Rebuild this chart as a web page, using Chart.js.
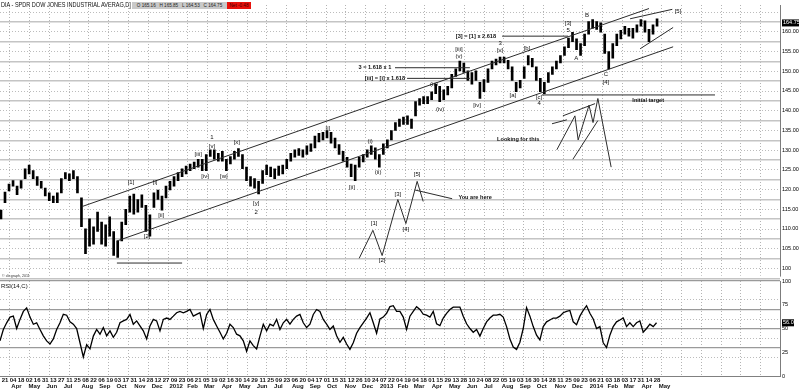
<!DOCTYPE html>
<html><head><meta charset="utf-8">
<script src="https://cdn.jsdelivr.net/npm/chart.js@4.4.1/dist/chart.umd.min.js"></script>
<style>
html,body{margin:0;padding:0;background:#fff;}
body{width:800px;height:390px;overflow:hidden;position:relative;font-family:"Liberation Sans",Arial,sans-serif;}
#pc{position:absolute;left:0;top:0;}
#rc{position:absolute;left:0;top:270px;}
.hd{position:absolute;white-space:nowrap;line-height:1;}
#title{left:1px;top:1px;font-size:7.5px;color:#111;transform:scaleX(0.74);transform-origin:0 0;}
#ohlc{left:132px;top:2px;width:95px;height:7px;background:#c9c9c9;font-size:4.6px;color:#222;line-height:7px;text-align:center;}
#net{left:227px;top:2px;width:24px;height:7px;background:#e8120c;font-size:4.6px;color:#400;line-height:7px;text-align:center;}
#copy{left:2px;top:275px;font-size:3.6px;color:#333;}
#rsit{left:1px;top:283px;font-size:6px;color:#111;}
</style></head><body>
<canvas id="pc" width="800" height="281"></canvas>
<canvas id="rc" width="800" height="120"></canvas>
<div class="hd" id="title">DIA - SPDR DOW JONES INDUSTRIAL AVERAG,D]</div>
<div class="hd" id="ohlc">O 165.16 &nbsp; H 165.85 &nbsp; L 164.53 &nbsp; C 164.75</div>
<div class="hd" id="net">Net -0.48</div>
<div class="hd" id="copy">© clicgraph, 2011</div>
<div class="hd" id="rsit">RSI(14,C)</div>
<script>
// ---- x axis: weeks counted from Monday 21 Mar 2011 ----
const X_MIN = -1.242, X_MAX = 192.55;

// weekly price bars (first bar = week -1)
const barStartWeek = -1;
const barLow = [115.1,119.2,122.2,123.4,121.2,122.9,125.3,126.5,125.3,123.6,122.9,120.9,119.7,119.2,119.2,121.7,125.3,124.8,125.3,121.7,
113.1,106.3,108.2,108.7,111.9,108.7,108.2,110.7,105.8,105.3,109.5,113.6,116.8,116.3,116.8,118.0,111.9,110.7,118.0,120.0,
117.3,120.4,122.4,123.4,124.8,125.8,126.5,127.3,127.8,128.2,127.3,127.3,130.9,130.2,129.7,129.7,127.3,129.0,130.2,130.9,
127.8,124.8,123.4,122.9,121.4,124.1,126.3,125.8,125.3,126.1,126.5,127.8,129.7,130.7,131.2,130.7,131.4,132.2,133.1,134.6,
135.1,135.6,134.3,133.1,131.4,129.7,128.2,125.8,124.8,128.2,129.5,130.7,131.4,130.2,128.2,131.4,133.1,135.1,137.5,138.5,
139.0,139.0,138.0,141.2,143.9,144.3,144.3,145.3,146.8,144.8,145.3,146.5,148.3,151.2,152.6,152.2,150.2,149.2,150.2,145.6,
147.3,149.7,153.1,154.1,154.6,154.6,153.1,150.2,147.3,148.3,150.7,154.1,153.6,150.2,147.3,146.8,149.7,151.7,153.1,154.6,
156.5,158.5,160.0,158.0,156.5,159.0,161.9,163.4,163.1,162.4,157.0,153.1,155.8,159.0,160.7,161.9,161.4,160.9,162.4,163.9,
162.4,160.0,161.9,163.9];
const barHigh = [117.3,121.9,123.9,124.8,123.4,124.8,127.8,128.7,127.3,125.8,124.6,122.9,121.7,120.9,121.7,125.3,126.8,126.5,127.3,125.8,
120.4,112.6,115.1,113.1,116.8,114.3,113.6,115.6,111.9,109.5,114.3,117.5,120.9,121.4,120.0,121.2,118.5,116.1,121.7,122.4,
120.9,123.4,124.6,125.8,126.8,127.8,128.5,129.0,129.5,130.2,130.2,131.4,132.6,132.6,131.7,132.2,130.2,130.9,132.2,132.9,
131.4,128.2,125.8,125.3,124.6,127.3,128.7,128.2,127.8,128.5,128.7,130.2,131.7,132.6,132.9,132.6,133.6,134.1,136.1,136.8,
137.0,137.5,137.0,135.6,133.9,132.2,130.7,129.0,128.7,130.7,131.4,132.6,133.6,133.1,131.4,134.1,135.1,137.5,139.5,140.4,
140.9,141.2,140.4,144.8,145.6,146.1,146.1,147.3,149.2,148.7,147.8,148.7,151.7,153.1,155.1,154.6,152.6,152.2,152.6,149.7,
150.4,153.1,155.1,155.6,156.1,156.1,155.3,153.6,149.7,150.2,153.6,156.5,155.8,153.6,150.7,149.7,152.2,153.6,155.1,156.5,
158.7,160.9,162.4,160.7,159.5,161.9,165.1,165.6,165.1,164.8,161.9,157.5,159.5,161.9,162.9,163.9,163.4,163.4,164.3,165.6,
165.3,163.1,164.3,165.8];
const lastClose = 164.75;

// RSI(14) sampled along the picture, first sample at week -1.24, one every 0.828 week
const rsiStartWeek = -1.24, rsiStepWeeks = 0.828;
const rsiValues = [37,49,56,62,63,50,59.6,68,71.7,62,54.5,56,49,42.3,37,33.7,39,49,56,65,
64,57,54.5,50,35,20,33,28.5,42,49,44,51,42.3,47.5,40.7,46,56,58,59.6,64.8,
54.5,58,52.7,47.5,39,52.7,59.6,58,47.5,59.6,61,59.6,63,66.6,68,66.6,68,70,63,64.8,
66.6,50,64.8,70,59.6,52.7,46,39,45,54.5,51,44,42.3,37,26,37,32,28.5,42,54.5,
47.5,54.5,52.7,59.6,49,56,59.6,54.5,59.6,63,64.8,56,51,54.5,64.8,70,68,59.6,54.5,49,
52.7,42.3,35.5,40.7,33.7,28,35,45,51,56,61,66.6,56,45,60,62,66,73,74,68,
68,62,49,63,68,73,70,65,64,62,68,55,53,61,66,70,72.5,72.5,72.5,63,
55,50,46,49,42,50,57,61,64,64,65,62,52,39,30.5,28,35.5,50,72,63,
52,43,38,52,57,59,61,61,63,66.6,68,69,57,54,63,69,74,66,60,50,
52,35,30,43,52,57,59,61,52,56,52,56,58,46,50,54.5,52,56];
const lastRsi = 56.0;

// x tick labels (one every 2 weeks from week 0) and month labels
const dayLabels = ['21','04','18','02','16','31','13','27','11','25','08','22','06','19','03','17','31','14','28','12','27',
'09','23','06','21','05','19','02','16','30','14','29','11','25','09','23','06','20','04','17','01','15','31','12','26','10','24',
'07','22','04','19','04','18','01','15','29','13','28','10','24','08','22','05','19','03','16','30','14','28','11','25','09','23',
'06','21','03','18','03','17','31','14','28'];
const monthLabels = ['Apr','May','Jun','Jul','Aug','Sep','Oct','Nov','Dec','2012','Feb','Mar','Apr','May','Jun','Jul','Aug','Sep','Oct','Nov','Dec',
'2013','Feb','Mar','Apr','May','Jun','Jul','Aug','Sep','Oct','Nov','Dec','2014','Feb','Mar','Apr','May'];
const monthWeeks = [1.57,5.86,10.29,14.57,19.0,23.43,27.71,32.14,36.43,40.86,45.29,49.43,53.86,58.14,62.57,66.86,71.29,75.71,80.0,84.43,88.71,
93.14,97.57,101.57,106.0,110.29,114.71,119.0,123.43,127.86,132.14,136.57,140.86,145.29,149.71,153.71,158.14,162.43];

// price axis
const P_MIN = 100.69, P_MAX = 169.22;
const priceSolidGrid = [105,110,115,120,125,130,135,140,145,150,155,160,165];
const priceDottedGrid = [102.5,107.5,112.5,117.5,122.5,127.5,132.5,137.5,142.5,147.5,152.5,157.5,162.5,167.5];
const rsiLabelTicks = [0,25,50,75,100];
const rsiSolidGrid = [30,50,70,100];
const rsiDottedGrid = [20,40,60,80];

// wave labels
const waveText  = ['[1]','[i]','[2]','[ii]','[iii]','[iv]','[v]','1','[w]','[x]','[y]','2','[i]','[ii]','(i)','(ii)','(iii)','(iv)','[iii]','(v)','[iv]','3','[v]','[a]','[b]','[c]','4','[3]','5','A','B','C','[4]','[5]','[1]','[2]','[3]','[4]','[5]'];
const waveWeek  = [31.3,37.3,35.3,38.8,48.0,49.7,51.4,51.4,54.4,57.6,62.4,62.4,80.2,86.2,90.7,92.7,106.6,108.1,112.8,112.8,117.3,123.0,123.0,126.2,129.7,132.7,132.7,139.9,139.9,141.9,144.6,149.3,149.3,167.2,91.7,93.7,97.6,99.6,102.4];
const wavePrice = [124.3,124.3,110.7,116.0,131.4,125.8,133.6,135.8,125.8,134.6,119.0,116.8,138.0,123.1,134.8,127.0,149.2,142.9,158.0,156.3,143.9,159.7,157.8,146.5,158.2,145.8,144.3,164.6,162.9,155.8,166.8,151.7,149.7,167.8,113.9,104.6,121.2,112.4,126.3];

// notes
const noteText  = ['3 = 1.618 x 1','[iii] = [i] x 1.618','[3] = [1] x 2.618','Initial target','Looking for this','You are here'];
const noteWeek  = [91.9,94.4,117.0,159.8,127.5,116.8];
const notePrice = [153.4,150.7,161.4,145.1,135.3,120.4];

// drawn lines (weeks, prices)
const upperChannelW = [19.1,160.0],  upperChannelP = [118.2,168.4];
const lowerChannelW = [27.8,166.0],  lowerChannelP = [109.5,158.7];
const baseLineW = [27.8,44.0],       baseLineP = [103.9,103.9];
const targetW = [133.4,176.4],       targetP = [146.5,146.5];
const fibAW = [96.9,115.5],          fibAP = [153.4,153.4];
const fibBW = [99.9,115.5],          fibBP = [150.7,150.7];
const fibCW = [123.5,139.9],         fibCP = [161.4,161.4];
const wedgeUpW = [155.3,165.8],      wedgeUpP = [165.8,168.2];
const wedgeLoW = [157.8,166.0],      wedgeLoP = [158.2,163.6];
const lookZigW = [137.1,141.6,142.4,145.1,146.1,147.3,150.6], lookZigP = [132.6,141.2,135.1,143.9,139.5,145.6,128.2];
const lookTopAW = [135.9,139.6],     lookTopAP = [139.2,140.2];
const lookTopBW = [138.6,146.6],     lookTopBP = [141.2,144.3];
const lookLowW = [141.1,147.3],      lookLowP = [130.2,140.0];
const hereZigW = [88.0,91.4,93.7,97.6,99.6,102.4,103.9], hereZigP = [105.1,112.2,105.8,120.0,113.9,124.6,119.5];
const herePtrW = [101.9,111.1],      herePtrP = [122.4,120.2];

const lineSets = [[upperChannelW,upperChannelP],[lowerChannelW,lowerChannelP],[baseLineW,baseLineP],[targetW,targetP],
 [fibAW,fibAP],[fibBW,fibBP],[fibCW,fibCP],[wedgeUpW,wedgeUpP],[wedgeLoW,wedgeLoP],[lookZigW,lookZigP],[lookTopAW,lookTopAP],
 [lookTopBW,lookTopBP],[lookLowW,lookLowP],[hereZigW,hereZigP],[herePtrW,herePtrP]];

// vertical dotted grid every 4.907 weeks
const gridStart = 1.242, gridStep = 4.907;
const gridWeeks = []; for (let g = gridStart; g < X_MAX; g += gridStep) gridWeeks.push(g);

const FONT = '"Liberation Sans", Arial, sans-serif';
const setTicks = vals => a => { a.ticks = vals.map(v => ({value: v})); };

function vGrid() {
  return {type:'linear', min:X_MIN, max:X_MAX, offset:false, position:'top', afterBuildTicks:setTicks(gridWeeks),
    ticks:{display:false}, grid:{color:'#b4b4b4', lineWidth:1, drawTicks:false, offset:false},
    border:{display:false, dash:[1,2]}, afterFit:s=>{s.height=0;}};
}
function hGrid(vals, color, width, dash, lo, hi) {
  return {type:'linear', min:lo, max:hi, position:'right', afterBuildTicks:setTicks(vals),
    ticks:{display:false}, grid:{color:color, lineWidth:width, drawTicks:false},
    border:{display:false, dash:dash}, afterFit:s=>{s.width=0;}};
}

const pricePlugin = {
  id:'priceText',
  afterDatasetsDraw(chart) {
    const {ctx, scales:{x, y}} = chart;
    ctx.save();
    ctx.fillStyle = '#111';
    ctx.textAlign = 'center'; ctx.textBaseline = 'middle';
    ctx.font = '6px ' + FONT;
    waveText.forEach((t,i) => ctx.fillText(t, x.getPixelForValue(waveWeek[i]), y.getPixelForValue(wavePrice[i])));
    ctx.font = 'bold 5.6px ' + FONT;
    noteText.forEach((t,i) => ctx.fillText(t, x.getPixelForValue(noteWeek[i]), y.getPixelForValue(notePrice[i])));
    ctx.restore();
  },
  afterDraw(chart) {
    const {ctx, scales:{y}, chartArea} = chart;
    const py = y.getPixelForValue(lastClose);
    ctx.save();
    ctx.fillStyle = '#000';
    ctx.fillRect(chartArea.right + 2, py - 3.5, 17, 7);
    ctx.fillStyle = '#fff';
    ctx.font = '5.5px ' + FONT; ctx.textAlign = 'left'; ctx.textBaseline = 'middle';
    ctx.fillText(lastClose.toFixed(2), chartArea.right + 3, py);
    ctx.restore();
  }
};

new Chart(document.getElementById('pc'), {
  type:'bar',
  data:{datasets:[
    {type:'bar', xAxisID:'x', yAxisID:'y', order:2,
     data: barLow.map((lo,i)=>({x: barStartWeek + i, y:[lo, barHigh[i]]})),
     backgroundColor:'#000', borderWidth:0, barThickness:2},
    ...lineSets.map(([w,p]) => ({type:'line', xAxisID:'x', yAxisID:'y', order:1,
      data: w.map((v,j)=>({x:v, y:p[j]})), borderColor:'#2c2c2c', borderWidth:1, pointRadius:0, fill:false, tension:0}))
  ]},
  options:{
    responsive:false, animation:false, events:[],
    layout:{padding:0},
    plugins:{legend:{display:false}, tooltip:{enabled:false}},
    scales:{
      x:{type:'linear', min:X_MIN, max:X_MAX, offset:false, grid:{offset:false}, display:false},
      xg: vGrid(),
      y:{type:'linear', position:'right', min:P_MIN, max:P_MAX, afterBuildTicks:setTicks(priceSolidGrid.concat([100])),
         afterFit:s=>{s.width=20;},
         ticks:{autoSkip:false, labelOffset:-10, padding:2, color:'#000', font:{family:FONT, size:5.5},
                callback:v => (v > 160) ? '' : (v === 100 ? '100' : v.toFixed(2))},
         grid:{color:'#c4c4c4', lineWidth:1.6, drawTicks:false},
         border:{display:true, color:'#7c7c7c', width:1}},
      yd: hGrid(priceDottedGrid, '#bcbcbc', 1, [1,2], P_MIN, P_MAX)
    }
  },
  plugins:[pricePlugin]
});

const rsiPlugin = {
  id:'rsiText',
  afterDraw(chart) {
    const {ctx, scales:{y}, chartArea} = chart;
    const py = y.getPixelForValue(lastRsi);
    ctx.save();
    ctx.fillStyle = '#000';
    ctx.fillRect(chartArea.right + 2, py - 3.5, 12, 7);
    ctx.fillStyle = '#fff';
    ctx.font = '5.5px ' + FONT; ctx.textAlign = 'left'; ctx.textBaseline = 'middle';
    ctx.fillText(lastRsi.toFixed(1), chartArea.right + 3, py);
    ctx.restore();
  }
};

new Chart(document.getElementById('rc'), {
  type:'line',
  data:{datasets:[{xAxisID:'x', yAxisID:'y',
    data: rsiValues.map((v,i)=>({x: rsiStartWeek + i*rsiStepWeeks, y:v})),
    borderColor:'#000', borderWidth:1.3, pointRadius:0, fill:false, tension:0}]},
  options:{
    responsive:false, animation:false, events:[],
    layout:{padding:{top:11, left:0, right:0, bottom:0}},
    plugins:{legend:{display:false}, tooltip:{enabled:false}},
    scales:{
      x:{type:'linear', min:X_MIN, max:X_MAX, display:false},
      xg: vGrid(),
      xd:{type:'linear', min:X_MIN, max:X_MAX, position:'bottom', afterBuildTicks:setTicks(dayLabels.map((d,i)=>i*2)),
          afterFit:s=>{s.height=7;},
          ticks:{autoSkip:false, maxRotation:0, minRotation:0, padding:1, color:'#111', font:{family:FONT, size:6, weight:'bold'},
                 callback:(v,i)=>dayLabels[i]},
          grid:{display:false, drawTicks:false}, border:{display:true, color:'#808080'}},
      xm:{type:'linear', min:X_MIN, max:X_MAX, position:'bottom', afterBuildTicks:setTicks(monthWeeks),
          afterFit:s=>{s.height=7;},
          ticks:{autoSkip:false, maxRotation:0, minRotation:0, padding:0, align:'start', color:'#111', font:{family:FONT, size:6, weight:'bold'},
                 callback:(v,i)=>monthLabels[i]},
          grid:{display:false, drawTicks:false}, border:{display:false}},
      y:{type:'linear', position:'right', min:0, max:100, afterBuildTicks:setTicks(rsiLabelTicks),
         afterFit:s=>{s.width=20;},
         ticks:{autoSkip:false, padding:2, color:'#000', font:{family:FONT, size:5.5}},
         grid:{display:false, drawTicks:false}, border:{display:true, color:'#7c7c7c', width:1}},
      ys: hGrid(rsiSolidGrid, '#9a9a9a', 1.3, [], 0, 100),
      yd: hGrid(rsiDottedGrid, '#bcbcbc', 1, [1,2], 0, 100)
    }
  },
  plugins:[rsiPlugin]
});
</script>
</body></html>
